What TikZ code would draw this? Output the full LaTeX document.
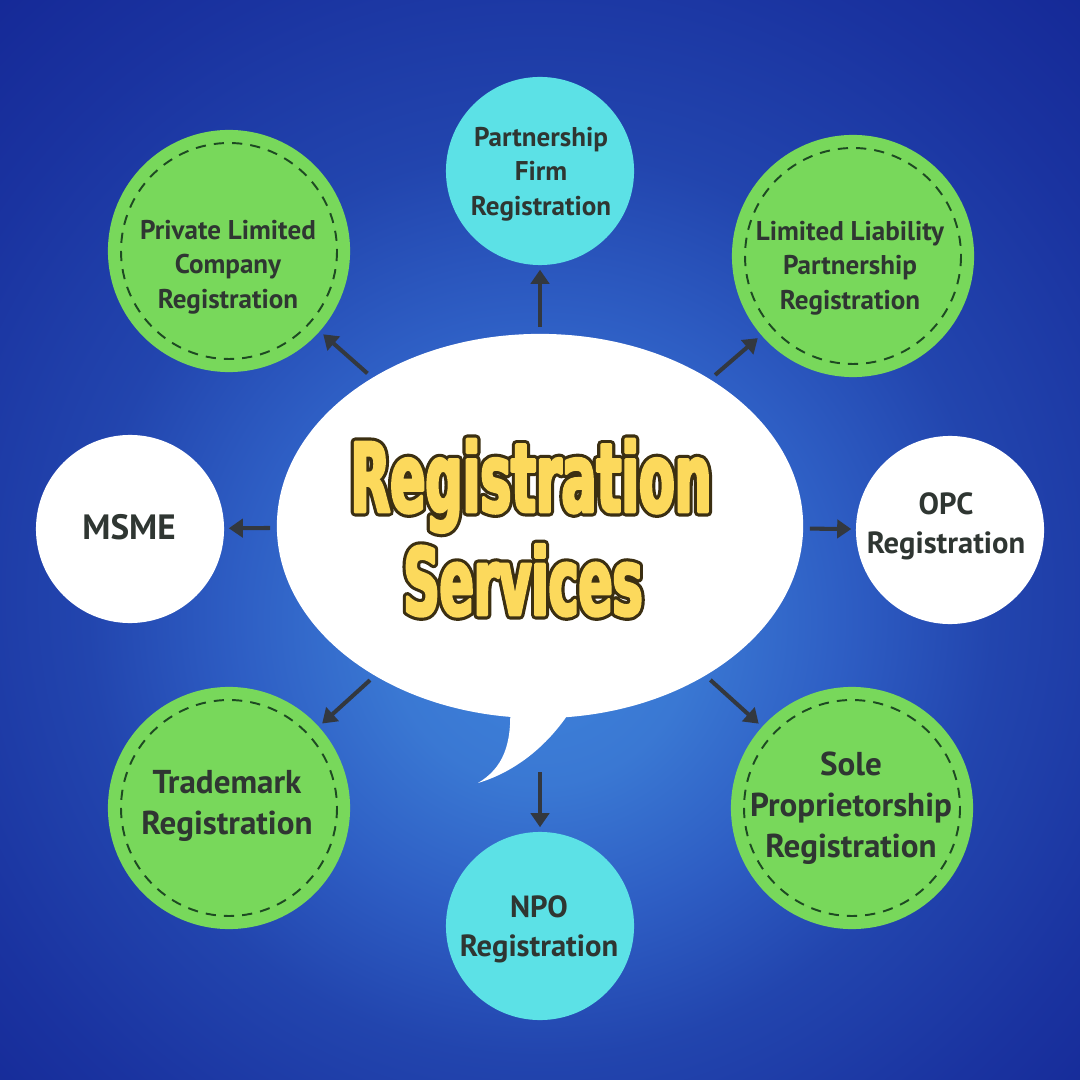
\documentclass[tikz,border=0pt]{standalone}
\usepackage{fontspec}
\setmainfont{PT Sans}
\newfontfamily\titlefont{DejaVu Sans}[FakeStretch=0.54]
\usetikzlibrary{arrows.meta,shapes.geometric}

\definecolor{bgmid}{HTML}{3E82DA}
\definecolor{bglight}{HTML}{3A78D3}
\definecolor{bgring}{HTML}{2E5EC4}
\definecolor{bgedge}{HTML}{2245AE}
\definecolor{bgdeep}{HTML}{1A33A0}
\definecolor{bgdark}{HTML}{142795}
\definecolor{bgcorner}{HTML}{0C1A86}
\definecolor{leaf}{HTML}{78D85B}
\definecolor{aqua}{HTML}{5CE1E6}
\definecolor{ink}{HTML}{2F3632}
\definecolor{stitch}{HTML}{1E4A22}
\definecolor{gold}{HTML}{FCD95C}
\definecolor{goldline}{HTML}{3B2F12}
\definecolor{pointgray}{HTML}{33383F}

\pgfdeclareradialshading{bgglow}{\pgfpoint{0bp}{-5bp}}{color(0bp)=(bgmid); color(7bp)=(bglight);
  color(14bp)=(bgring); color(21bp)=(bgedge); color(30bp)=(bgdeep); color(38bp)=(bgdark); color(50bp)=(bgcorner)}

%% text drawn with a stroked rim (fill + stroke)
\newcommand{\rimon}[1]{\special{pdf:literal direct 1 j 2 Tr #1 w}}
\newcommand{\rimoff}{\special{pdf:literal direct 0 Tr}}

\tikzset{
  greenball/.style={circle, fill=leaf, minimum size=2.42cm, inner sep=0pt},
  aquaball/.style={circle, fill=aqua, minimum size=1.88cm, inner sep=0pt},
  whiteball/.style={circle, fill=white, minimum size=1.88cm, inner sep=0pt},
  stitchring/.style={draw=stitch, line width=0.55pt, dash pattern=on 2.9pt off 2.3pt},
  txtA/.style={text=ink, align=center, inner sep=0pt, font=\fontsize{7.7pt}{9.8pt}\selectfont\bfseries},
  txtB/.style={text=ink, align=center, inner sep=0pt, font=\fontsize{8.7pt}{11.1pt}\selectfont\bfseries},
  txtC/.style={text=ink, align=center, inner sep=0pt, font=\fontsize{9.4pt}{11.6pt}\selectfont\bfseries},
  txtD/.style={text=ink, align=center, inner sep=0pt, font=\fontsize{10pt}{12pt}\selectfont\bfseries},
  titleA/.style={inner sep=0pt, anchor=base, font=\titlefont\fontsize{27.3pt}{30pt}\selectfont\bfseries},
  titleB/.style={inner sep=0pt, anchor=base, font=\titlefont\fontsize{26.5pt}{30pt}\selectfont\bfseries},
  pointer/.style={draw=pointgray, line width=1.15pt, -{Triangle[length=4pt,width=5.2pt]},
    shorten <=0.06cm, shorten >=0.04cm}
}

\begin{document}
\begin{tikzpicture}[x=0.01cm,y=-0.01cm]
  %% background
  \shade[shading=bgglow] (0,0) rectangle (1080,1080);

  %% speech bubble
  \node[ellipse, fill=white, minimum width=5.26cm, minimum height=3.84cm, inner sep=0pt] (bubble) at (540,526) {};
  \fill[white] (510,705) .. controls (512,745) and (503,768) .. (478,783)
    .. controls (515,772) and (550,745) .. (574,705) -- cycle;
  \coordinate (tailend) at (540,766);

  %% outer balls
  \node[greenball] (plc) at (229,251) {};
  \node[aquaball] (pfirm) at (540,171) {};
  \node[greenball] (llp) at (853,256) {};
  \node[whiteball] (msme) at (130,529) {};
  \node[whiteball] (opc) at (950,530) {};
  \node[greenball] (trade) at (229,808) {};
  \node[aquaball] (npo) at (540,926) {};
  \node[greenball] (sole) at (852,808) {};
  \foreach \n in {plc,llp,trade,sole}
    \draw[stitchring] (\n) circle [radius=108];

  %% texts in the balls
  \node[txtA] (plc-t) at (228,267) {Private Limited\\Company\\Registration};
  \node[txtA] (pfirm-t) at (541,174) {Partnership\\Firm\\Registration};
  \node[txtA] (llp-t) at (850,268) {Limited Liability\\Partnership\\Registration};
  \node[txtD] (msme-t) at (129,527) {MSME};
  \node[txtB] (opc-t) at (946,526) {OPC\\Registration};
  \node[txtC] (trade-t) at (227,806) {Trademark\\Registration};
  \node[txtB] (npo-t) at (539,929) {NPO\\Registration};
  \node[txtC] (sole-t) at (851,808) {Sole\\Proprietorship\\Registration};

  %% title: dark rim below, yellow on top
  \node[titleA, text=goldline] (rim1) at (531,512) {\rimon{2.6}Registration\rimoff};
  \node[titleB, text=goldline] (rim2) at (523,615) {\rimon{2.6}Services\rimoff};
  \node[titleA, text=gold] (title1) at (531,512) {\rimon{0.8}Registration\rimoff};
  \node[titleB, text=gold] (title2) at (523,615) {\rimon{0.8}Services\rimoff};

  %% arrows
  \draw[pointer] (bubble) -- (pfirm);
  \draw[pointer] (bubble) -- (plc);
  \draw[pointer] (bubble) -- (llp);
  \draw[pointer] (bubble) -- (msme);
  \draw[pointer] (bubble) -- (opc);
  \draw[pointer] (bubble) -- (trade);
  \draw[pointer] (bubble) -- (sole);
  \draw[pointer] (tailend) -- (npo);
\end{tikzpicture}
\end{document}
